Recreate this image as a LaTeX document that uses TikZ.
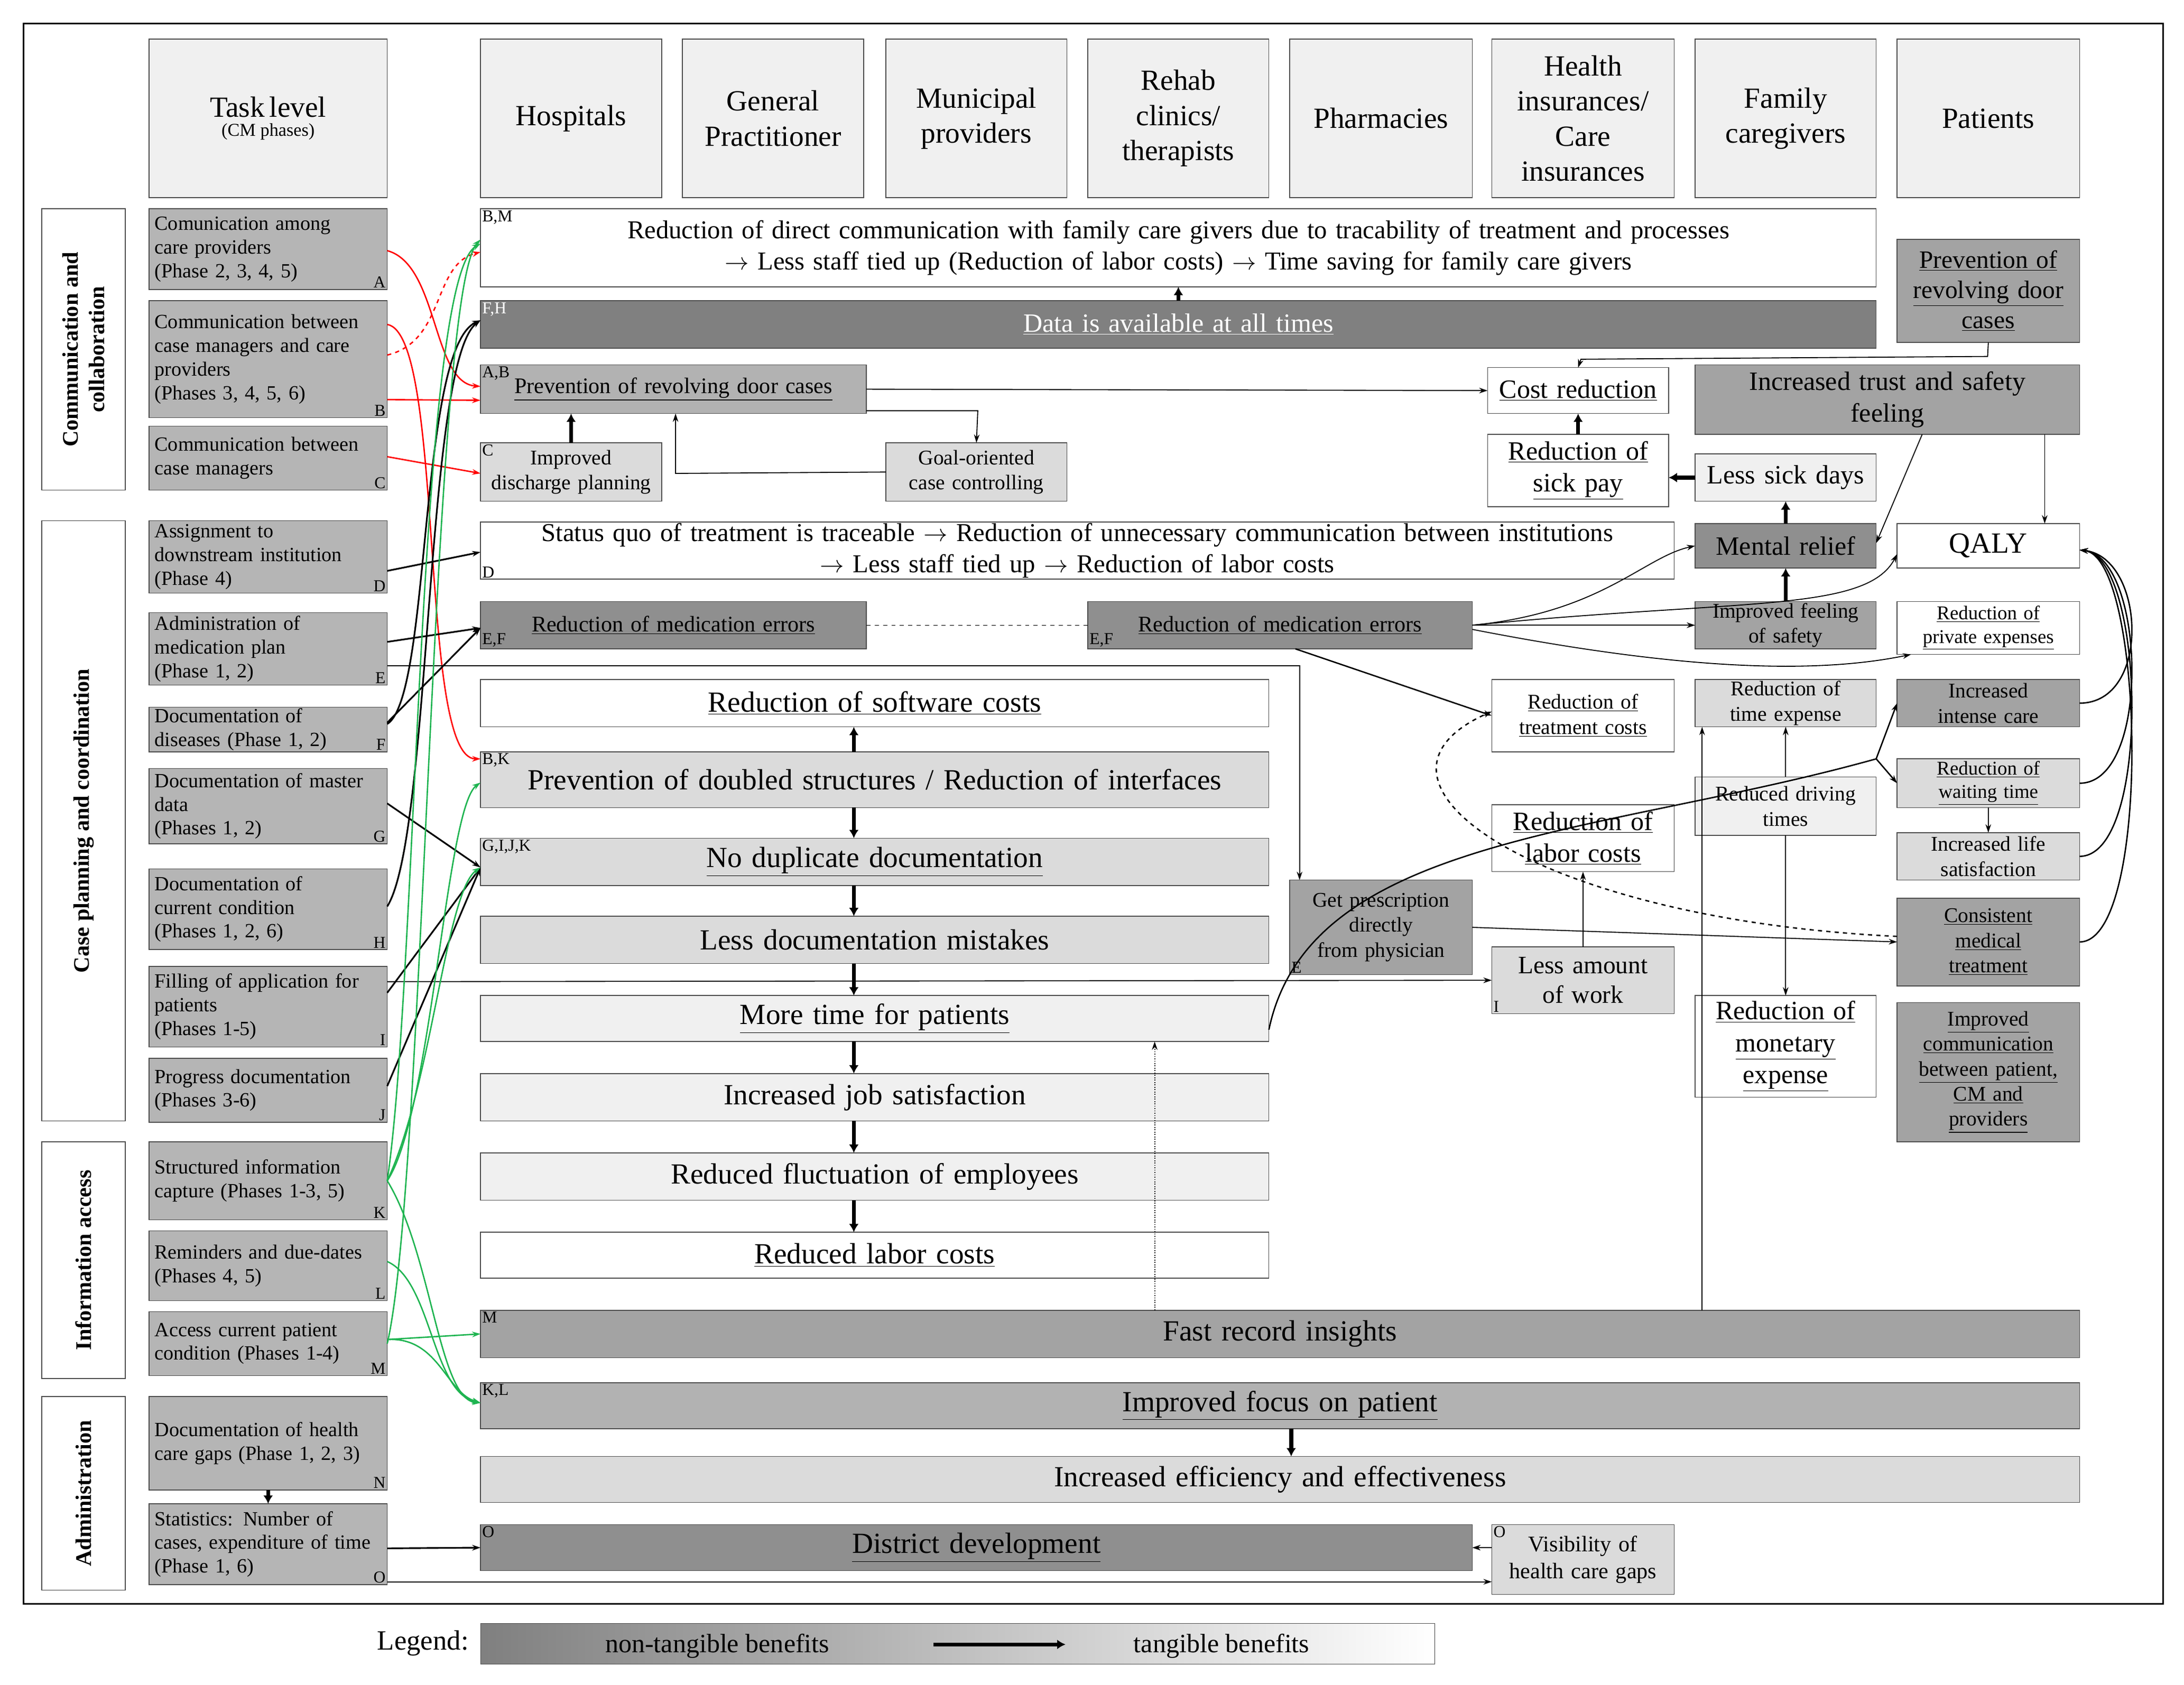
\documentclass[tikz,border=0pt]{standalone}
\usepackage{fontspec}
\setmainfont{Liberation Serif}
\usetikzlibrary{arrows.meta,calc}
\hyphenpenalty=10000 \exhyphenpenalty=10000
\definecolor{hdr}{gray}{0.94}
\definecolor{tk}{gray}{0.71}
\definecolor{dk}{gray}{0.50}
\definecolor{md}{gray}{0.56}
\definecolor{mg}{gray}{0.64}
\definecolor{lg}{gray}{0.70}
\definecolor{ll}{gray}{0.86}
\definecolor{vl}{gray}{0.94}
\definecolor{grn}{RGB}{30,180,80}
\newcommand\fs[1]{\fontsize{#1}{\dimexpr#1pt*6/5\relax}\selectfont}
\newcommand\bx[7]{\pgfmathsetmacro\cx{(#2+#4)/2}\pgfmathsetmacro\cy{(#3+#5)/2}\pgfmathsetmacro\ww{#4-#2}\pgfmathsetmacro\hh{#5-#3}\pgfmathsetmacro\tw{#4-#2-8}\node[box,minimum width=\ww pt,minimum height=\hh pt,text width=\tw pt,#6] (#1) at (\cx,\cy) {#7};}
\begin{document}
\begin{tikzpicture}[x=1pt,y=-1pt,
 box/.style={draw=black!70,line width=0.6pt,inner sep=0pt,outer sep=0pt,align=center},
 task/.style={fill=tk,align=left,font=\fontsize{14.5}{17}\selectfont},
 cl/.style={inner sep=1pt,font=\fontsize{12}{13}\selectfont},
 ar/.style={-{Stealth[length=6pt,width=4pt]},line width=0.7pt},
 tar/.style={-{Latex[length=6pt,width=7pt]},line width=2.8pt},
 rar/.style={ar,red,line width=1pt},
 gar/.style={ar,grn,line width=1pt},
 bar/.style={ar,line width=1.2pt}]
\useasboundingbox (0,0) rectangle (1568,1210);
\fill[white] (0,0) rectangle (1568,1210);
\draw[line width=1.2pt] (17,17) rectangle (1553,1152);
% headers
\bx{h0}{107}{28}{278}{142}{fill=hdr}{\fs{21}Task level\\[2pt]\fs{13}(CM phases)}
\bx{h1}{345}{28}{475}{142}{fill=hdr,font=\fs{21}}{Hospitals}
\bx{h2}{490}{28}{620}{142}{fill=hdr,font=\fs{21}}{General\\Practitioner}
\bx{h3}{636}{28}{766}{142}{fill=hdr,font=\fs{21}}{Municipal\\providers}
\bx{h4}{781}{28}{911}{142}{fill=hdr,font=\fs{21}}{Rehab\\clinics/\\therapists}
\bx{h5}{926}{28}{1057}{142}{fill=hdr,font=\fs{21}}{Pharmacies}
\bx{h6}{1071}{28}{1202}{142}{fill=hdr,font=\fs{21}}{Health\\insurances/\\Care\\insurances}
\bx{h7}{1217}{28}{1347}{142}{fill=hdr,font=\fs{21}}{Family\\caregivers}
\bx{h8}{1362}{28}{1493}{142}{fill=hdr,font=\fs{21}}{Patients}
% categories
\bx{c1}{30}{150}{90}{352}{fill=white}{}
\node[rotate=90,align=center,font=\bfseries\fs{16}] at (c1) {Communication and\\collaboration};
\bx{c2}{30}{374}{90}{805}{fill=white}{}
\node[rotate=90,font=\bfseries\fs{16}] at (c2) {Case planning and coordination};
\bx{c3}{30}{820}{90}{990}{fill=white}{}
\node[rotate=90,font=\bfseries\fs{16}] at (c3) {Information access};
\bx{c4}{30}{1003}{90}{1142}{fill=white}{}
\node[rotate=90,font=\bfseries\fs{16}] at (c4) {Administration};
% tasks
\bx{tA}{107}{150}{278}{208}{task}{Comunication among\\care providers\\(Phase 2, 3, 4, 5)}
\bx{tB}{107}{216}{278}{300}{task}{Communication between\\case managers and care\\providers\\(Phases 3, 4, 5, 6)}
\bx{tC}{107}{306}{278}{352}{task}{Communication between\\case managers}
\bx{tD}{107}{374}{278}{426}{task}{Assignment to\\downstream institution\\(Phase 4)}
\bx{tE}{107}{440}{278}{492}{task}{Administration of\\medication plan\\(Phase 1, 2)}
\bx{tF}{107}{508}{278}{540}{task}{Documentation of\\diseases (Phase 1, 2)}
\bx{tG}{107}{552}{278}{606}{task}{Documentation of master\\data\\(Phases 1, 2)}
\bx{tH}{107}{624}{278}{682}{task}{Documentation of\\current condition\\(Phases 1, 2, 6)}
\bx{tI}{107}{694}{278}{752}{task}{Filling of application for\\patients\\(Phases 1-5)}
\bx{tJ}{107}{760}{278}{806}{task}{Progress documentation\\(Phases 3-6)}
\bx{tK}{107}{820}{278}{876}{task}{Structured information\\capture (Phases 1-3, 5)}
\bx{tL}{107}{884}{278}{934}{task}{Reminders and due-dates\\(Phases 4, 5)}
\bx{tM}{107}{942}{278}{988}{task}{Access current patient\\condition (Phases 1-4)}
\bx{tN}{107}{1003}{278}{1070}{task}{Documentation of health\\care gaps (Phase 1, 2, 3)}
\bx{tO}{107}{1080}{278}{1138}{task}{Statistics: Number of\\cases, expenditure of time\\(Phase 1, 6)}
\foreach \l in {A,B,C,D,E,F,G,H,I,J,K,L,M,N,O}{\node[cl,anchor=south east] at (t\l.south east) {\l};}
% benefits
\bx{BM}{345}{150}{1347}{206}{fill=white,font=\fs{18.5}}{Reduction of direct communication with family care givers due to tracability of treatment and processes\\$\rightarrow$ Less staff tied up (Reduction of labor costs) $\rightarrow$ Time saving for family care givers}
\bx{FH}{345}{216}{1347}{250}{fill=dk,text=white,font=\fs{19}}{\underline{Data is available at all times}}
\bx{PP}{1362}{172}{1493}{246}{fill=mg,font=\fs{18}}{\underline{Prevention of}\\\underline{revolving door}\\\underline{cases}}
\bx{AB}{345}{262}{622}{297}{fill=lg,font=\fs{16}}{\underline{Prevention of revolving door cases}}
\bx{DP}{345}{318}{475}{360}{fill=ll,font=\fs{15}}{Improved\\discharge planning}
\bx{GO}{636}{318}{766}{360}{fill=ll,font=\fs{15}}{Goal-oriented\\case controlling}
\bx{CR}{1068}{264}{1198}{297}{fill=white,font=\fs{19}}{\underline{Cost reduction}}
\bx{TS}{1217}{262}{1493}{312}{fill=mg,font=\fs{19}}{Increased trust and safety\\feeling}
\bx{SP}{1068}{312}{1198}{364}{fill=white,font=\fs{19}}{\underline{Reduction of}\\\underline{sick pay}}
\bx{SD}{1217}{326}{1347}{360}{fill=vl,font=\fs{19}}{Less sick days}
\bx{DS}{345}{375}{1202}{416}{fill=white,font=\fs{18.5}}{Status quo of treatment is traceable $\rightarrow$ Reduction of unnecessary communication between institutions\\$\rightarrow$ Less staff tied up $\rightarrow$ Reduction of labor costs}
\bx{MR}{1217}{376}{1347}{408}{fill=md,font=\fs{19}}{Mental relief}
\bx{QA}{1362}{376}{1493}{408}{fill=white,font=\fs{21}}{QALY}
\bx{EL}{345}{432}{622}{466}{fill=md,font=\fs{16}}{\underline{Reduction of medication errors}}
\bx{ER}{781}{432}{1057}{466}{fill=md,font=\fs{16}}{\underline{Reduction of medication errors}}
\bx{IS}{1217}{432}{1347}{466}{fill=mg,font=\fs{15}}{Improved feeling\\of safety}
\bx{PE}{1362}{432}{1493}{470}{fill=white,font=\fs{14}}{\underline{Reduction of}\\\underline{private expenses}}
\bx{SC}{345}{488}{911}{522}{fill=white,font=\fs{21}}{\underline{Reduction of software costs}}
\bx{TC}{1071}{488}{1202}{540}{fill=white,font=\fs{15}}{\underline{Reduction of}\\\underline{treatment costs}}
\bx{TE}{1217}{488}{1347}{522}{fill=ll,font=\fs{15}}{Reduction of\\time expense}
\bx{IC}{1362}{488}{1493}{522}{fill=mg,font=\fs{15}}{Increased\\intense care}
\bx{BK}{345}{540}{911}{580}{fill=ll,font=\fs{21}}{Prevention of doubled structures / Reduction of interfaces}
\bx{DT}{1217}{558}{1347}{600}{fill=vl,font=\fs{15}}{Reduced driving\\times}
\bx{WT}{1362}{545}{1493}{580}{fill=ll,font=\fs{14}}{\underline{Reduction of}\\\underline{waiting time}}
\bx{LC}{1071}{578}{1202}{626}{fill=white,font=\fs{19}}{\underline{Reduction of}\\\underline{labor costs}}
\bx{LS}{1362}{598}{1493}{632}{fill=ll,font=\fs{15}}{Increased life\\satisfaction}
\bx{GI}{345}{602}{911}{636}{fill=ll,font=\fs{21}}{\underline{No duplicate documentation}}
\bx{GP}{926}{632}{1057}{700}{fill=mg,font=\fs{15}}{Get prescription\\directly\\from physician}
\bx{CM}{1362}{645}{1493}{708}{fill=mg,font=\fs{15}}{\underline{Consistent}\\\underline{medical}\\\underline{treatment}}
\bx{LD}{345}{658}{911}{692}{fill=ll,font=\fs{21}}{Less documentation mistakes}
\bx{LW}{1071}{680}{1202}{728}{fill=ll,font=\fs{18}}{Less amount\\of work}
\bx{MT}{345}{715}{911}{748}{fill=vl,font=\fs{21}}{\underline{More time for patients}}
\bx{ME}{1217}{715}{1347}{788}{fill=white,font=\fs{19}}{\underline{Reduction of}\\\underline{monetary}\\\underline{expense}}
\bx{IP}{1362}{720}{1493}{820}{fill=mg,font=\fs{15}}{\underline{Improved}\\\underline{communication}\\\underline{between patient,}\\\underline{CM and}\\\underline{providers}}
\bx{JS}{345}{771}{911}{805}{fill=vl,font=\fs{21}}{Increased job satisfaction}
\bx{RF}{345}{828}{911}{862}{fill=vl,font=\fs{21}}{Reduced fluctuation of employees}
\bx{RL}{345}{885}{911}{918}{fill=white,font=\fs{21}}{\underline{Reduced labor costs}}
\bx{FR}{345}{941}{1493}{975}{fill=mg,font=\fs{21}}{Fast record insights}
\bx{KL}{345}{993}{1493}{1026}{fill=lg,font=\fs{21}}{\underline{Improved focus on patient}}
\bx{EE}{345}{1046}{1493}{1079}{fill=ll,font=\fs{21}}{Increased efficiency and effectiveness}
\bx{DD}{345}{1095}{1057}{1128}{fill=md,font=\fs{21}}{\underline{District development}}
\bx{VG}{1071}{1095}{1202}{1145}{fill=ll,font=\fs{16}}{Visibility of\\health care gaps}
% corner labels
\node[cl,anchor=north west] at (BM.north west) {B,M};
\node[cl,anchor=north west,text=white] at (FH.north west) {F,H};
\node[cl,anchor=north west] at (AB.north west) {A,B};
\node[cl,anchor=north west] at (DP.north west) {C};
\node[cl,anchor=south west] at (DS.south west) {D};
\node[cl,anchor=south west] at (EL.south west) {E,F};
\node[cl,anchor=south west] at (ER.south west) {E,F};
\node[cl,anchor=north west] at (BK.north west) {B,K};
\node[cl,anchor=north west] at (GI.north west) {G,I,J,K};
\node[cl,anchor=south west] at (GP.south west) {E};
\node[cl,anchor=south west] at (LW.south west) {I};
\node[cl,anchor=north west] at (FR.north west) {M};
\node[cl,anchor=north west] at (KL.north west) {K,L};
\node[cl,anchor=north west] at (DD.north west) {O};
\node[cl,anchor=north west] at (VG.north west) {O};
% red connectors
\draw[rar] ([yshift=-1]tA.east) .. controls (315,190) and (310,275) .. ([yshift=2]AB.west);
\draw[rar,dashed] ([yshift=3]tB.east) .. controls (320,245) and (310,190) .. ([yshift=-3]BM.west);
\draw[rar] ([yshift=-29]tB.east) -- ([yshift=-8]AB.west);
\draw[rar] ([yshift=25]tB.east) .. controls (320,240) and (300,545) .. ([yshift=15]BK.west);
\draw[rar] ([yshift=1]tC.east) -- ([yshift=-1]DP.west);
% black connectors
\draw[bar] ([yshift=4]tF.east) .. controls (310,500) and (300,250) .. ([yshift=3]FH.west);
\draw[bar] ([yshift=2]tH.east) .. controls (310,600) and (305,260) .. ([yshift=3]FH.west);
\draw[bar] ([yshift=-10]tD.east) -- ([yshift=-1]DS.west);
\draw[bar] ([yshift=5]tE.east) -- ([yshift=-2]EL.west);
\draw[bar] ([yshift=5]tF.east) -- ([yshift=-2]EL.west);
\draw[bar] ([yshift=2]tG.east) -- ([yshift=-4]GI.west);
\draw[bar] ([yshift=10]tI.east) -- ([yshift=-4]GI.west);
\draw[bar] ([yshift=3]tJ.east) -- ([yshift=-4]GI.west);
\draw[ar] ([yshift=-12]tE.east) -- (933,478) -- (933,632);
\draw[ar] ([yshift=18]tI.east) -- (LW.west);
\draw[bar] ([yshift=-3]tO.east) -- (DD.west);
\draw[ar] ([yshift=-27]tO.east) -- ([yshift=-16]VG.west);
\draw[tar] (tN.south) -- (tO.north);
% green connectors
\draw[gar] (tK.east) .. controls (300,700) and (300,200) .. ([yshift=3]BM.west);
\draw[gar] (tM.east) .. controls (305,850) and (310,210) .. ([yshift=6]BM.west);
\draw[gar] (tK.east) .. controls (310,800) and (320,580) .. ([yshift=-2]BK.west);
\draw[gar] (tK.east) .. controls (310,780) and (320,640) .. ([yshift=-4]GI.west);
\draw[gar] (tK.east) .. controls (310,900) and (315,1005) .. ([yshift=2]KL.west);
\draw[gar] ([yshift=3]tL.east) .. controls (310,920) and (310,1000) .. ([yshift=2]KL.west);
\draw[gar] ([yshift=3]tM.east) -- (FR.west);
\draw[gar] ([yshift=3]tM.east) .. controls (315,960) and (320,1000) .. ([yshift=2]KL.west);
% vertical thick
\draw[tar] (FH.north) -- (BM.south);
\draw[tar] (DP.north) -- (DP.north |- AB.south);
\draw[tar] ([xshift=-15]BK.north) -- ([xshift=-15]SC.south);
\draw[tar] ([xshift=-15]BK.south) -- ([xshift=-15]GI.north);
\draw[tar] ([xshift=-15]GI.south) -- ([xshift=-15]LD.north);
\draw[tar] ([xshift=-15]LD.south) -- ([xshift=-15]MT.north);
\draw[tar] ([xshift=-15]MT.south) -- ([xshift=-15]JS.north);
\draw[tar] ([xshift=-15]JS.south) -- ([xshift=-15]RF.north);
\draw[tar] ([xshift=-15]RF.south) -- ([xshift=-15]RL.north);
\draw[tar] ([xshift=8]KL.south) -- ([xshift=8]EE.north);
\draw[tar] (SP.north) -- (SP.north |- CR.south);
\draw[tar] (SD.west) -- (SD.west -| SP.east);
\draw[tar] (MR.north) -- (SD.south);
\draw[tar] (IS.north) -- (MR.south);
% thin connectors
\draw[ar,densely dotted] (829,941) -- (829,748);
\draw[ar] (AB.east) -- (CR.west);
\draw[ar] (AB.east |- 0,295) -- (702,295) -- (GO.north);
\draw[ar] (GO.west) -- (485,340) -- (485,297);
\draw[ar] (PP.south) -- (1427,256) -- (1135,258) -- (CR.north);
\draw[ar] (1380,312) -- ([yshift=2]MR.east);
\draw[ar] (1468,312) -- (1468,376);
\draw[dashed] (EL.east) -- (ER.west);
\draw[ar] (ER.east) .. controls (1150,440) and (1180,400) .. (MR.west);
\draw[ar] (ER.east) -- (IS.west);
\draw[ar] (ER.east) .. controls (1250,430) and (1340,440) .. ([yshift=-6]QA.west);
\draw[ar] ([yshift=-3]ER.east) .. controls (1200,480) and (1300,485) .. ([xshift=10]PE.south west);
\draw[ar,line width=1pt] (930,466) -- (TC.west);
\draw[ar] (GP.east) -- (CM.west);
\draw[ar,dashed,line width=1pt] ([yshift=4]CM.west) .. controls (1100,660) and (960,560) .. ([yshift=3]TC.west);
\draw[ar,line width=1pt] ([yshift=-8]MT.east) .. controls (940,600) and (1150,600) .. (1347,545) -- (IC.west);
\draw[ar,line width=1pt] (1347,545) -- (WT.west);
\draw[ar] (1222,941) -- (1222,522);
\draw[ar] (DT.north) -- (TE.south);
\draw[ar] (DT.south) -- (ME.north);
\draw[ar] (WT.south) -- (LS.north);
\draw[ar] (LW.north) -- (LC.south);
\draw[ar] (VG.west |- DD.east) -- (DD.east);
\foreach \n in {IC,WT,LS,CM}{\draw[ar,line width=1pt] (\n.east) .. controls (1545,0 |- \n.east) and (1540,400) .. ([yshift=-3]QA.east);}
% legend
\node[anchor=east,font=\fs{20}] at (340,1180) {Legend:};
\shade[left color=gray!100,right color=white,draw=black!70] (345,1166) rectangle (1030,1195);
\node[font=\fs{19}] at (515,1182) {non-tangible benefits};
\node[font=\fs{19}] at (877,1182) {tangible benefits};
\draw[tar] (670,1181) -- (765,1181);
\end{tikzpicture}
\end{document}
